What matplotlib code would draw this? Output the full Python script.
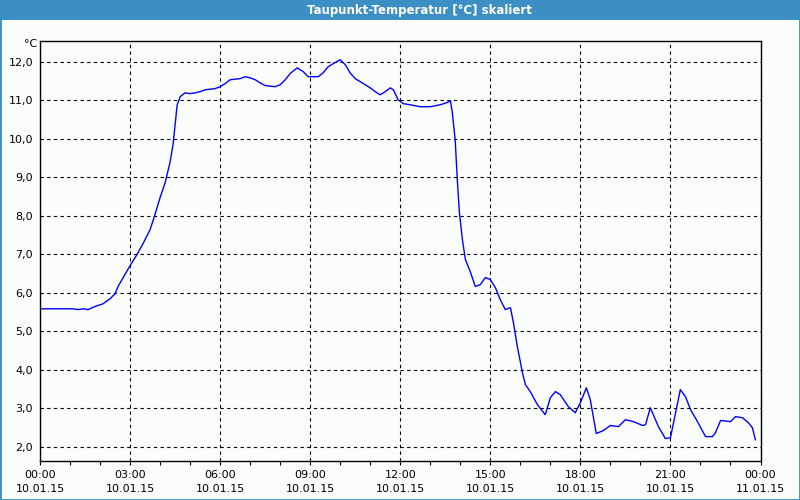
import matplotlib
matplotlib.use("Agg")
import matplotlib.pyplot as plt
from matplotlib.patches import Rectangle
from matplotlib.ticker import MultipleLocator, FuncFormatter

# dew point readings, hours since 10.01.15 00:00
hours = [0.0, 1.1, 1.27, 1.43, 1.6, 1.83, 2.1, 2.33, 2.5, 2.6, 2.77, 3.0,
         3.23, 3.43, 3.67, 3.83, 4.0, 4.17, 4.33, 4.43, 4.5, 4.57, 4.67, 4.83,
         5.0, 5.17, 5.33, 5.5, 5.83, 6.0, 6.17, 6.33, 6.67, 6.83, 7.0, 7.17,
         7.33, 7.5, 7.83, 8.0, 8.17, 8.33, 8.57, 8.77, 8.93, 9.27, 9.43, 9.6,
         9.77, 10.0, 10.17, 10.33, 10.5, 10.73, 11.0, 11.17, 11.33, 11.5, 11.67,
         11.77, 11.93, 12.1, 12.33, 12.67, 13.0, 13.33, 13.57, 13.67, 13.73,
         13.83, 13.9, 13.97, 14.07, 14.17, 14.33, 14.5, 14.67, 14.83, 15.0,
         15.17, 15.33, 15.5, 15.67, 15.77, 15.9, 16.07, 16.17, 16.33, 16.57,
         16.83, 17.0, 17.17, 17.33, 17.6, 17.83, 18.0, 18.2, 18.33, 18.53,
         18.77, 19.0, 19.27, 19.5, 19.77, 20.07, 20.17, 20.33, 20.6, 20.83,
         21.0, 21.33, 21.5, 21.67, 21.9, 22.17, 22.4, 22.5, 22.67, 23.0, 23.17,
         23.4, 23.6, 23.73, 23.83]
dewpoint = [5.58, 5.58, 5.56, 5.58, 5.56, 5.64, 5.71, 5.84, 5.97, 6.16, 6.39,
            6.70, 6.99, 7.27, 7.64, 8.03, 8.47, 8.86, 9.38, 9.84, 10.36, 10.88,
            11.09, 11.19, 11.17, 11.19, 11.22, 11.27, 11.30, 11.35, 11.43,
            11.53, 11.56, 11.61, 11.58, 11.53, 11.45, 11.38, 11.35, 11.40,
            11.53, 11.69, 11.84, 11.74, 11.61, 11.61, 11.71, 11.87, 11.95,
            12.05, 11.92, 11.71, 11.56, 11.45, 11.32, 11.22, 11.14, 11.22,
            11.32, 11.27, 11.01, 10.91, 10.88, 10.83, 10.83, 10.88, 10.94,
            10.99, 10.70, 9.97, 8.94, 8.08, 7.38, 6.86, 6.55, 6.16, 6.21, 6.39,
            6.34, 6.13, 5.82, 5.56, 5.61, 5.22, 4.60, 3.92, 3.61, 3.43, 3.09,
            2.83, 3.27, 3.43, 3.35, 3.04, 2.88, 3.14, 3.53, 3.22, 2.34, 2.42,
            2.55, 2.52, 2.70, 2.65, 2.55, 2.57, 3.01, 2.52, 2.21, 2.23, 3.48,
            3.30, 2.96, 2.65, 2.26, 2.26, 2.36, 2.68, 2.65, 2.78, 2.75, 2.62,
            2.49, 2.18]

tick_hours = [0, 3, 6, 9, 12, 15, 18, 21, 24]
tick_labels = ["00:00\n10.01.15", "03:00\n10.01.15", "06:00\n10.01.15",
               "09:00\n10.01.15", "12:00\n10.01.15", "15:00\n10.01.15",
               "18:00\n10.01.15", "21:00\n10.01.15", "00:00\n11.01.15"]

title = "Taupunkt-Temperatur [°C] skaliert"
frame_blue = "#3c8fc4"
bg = "#fbfdfb"

fig = plt.figure(figsize=(8, 5), dpi=100, facecolor=bg)
ax = fig.add_axes([40 / 800, 1 - 460.5 / 500, 720.5 / 800, 420 / 500])
ax.set_facecolor(bg)

ax.plot(hours, dewpoint, color="#0000ff", lw=1.0)

ax.set_xlim(0, 24)
ax.set_ylim(1.64, 12.55)
ax.set_xticks(tick_hours)
ax.set_xticklabels(tick_labels, fontsize=8, linespacing=1.5)
ax.xaxis.set_minor_locator(MultipleLocator(1))
ax.set_yticks(range(2, 13))
ax.yaxis.set_major_formatter(FuncFormatter(lambda v, p: f"{v:.1f}".replace(".", ",")))
ax.tick_params(axis="y", length=0, pad=5, labelsize=8)
ax.tick_params(axis="x", which="both", length=3, width=0.8, pad=4, direction="out")

ax.grid(True, color="black", linestyle=(0, (3, 3)), linewidth=0.8)
for s in ax.spines.values():
    s.set_color("black")
    s.set_linewidth(1.0)

ax.text(-0.004, 12.45, "°C", transform=ax.get_yaxis_transform(), ha="right",
        va="center", fontsize=8)

# title bar and window frame
fig.patches.append(Rectangle((0, 1 - 20 / 500), 1, 20 / 500, transform=fig.transFigure,
                             facecolor=frame_blue, edgecolor="none", zorder=0))
fig.patches.append(Rectangle((0, 0), 1, 1, transform=fig.transFigure, fill=False,
                             edgecolor=frame_blue, linewidth=2, zorder=0))
fig.text(419 / 800, 1 - 10.5 / 500, title, ha="center", va="center",
         color="white", fontsize=8.5, fontweight="bold")

fig.savefig("out.png", dpi=100, facecolor=bg)
